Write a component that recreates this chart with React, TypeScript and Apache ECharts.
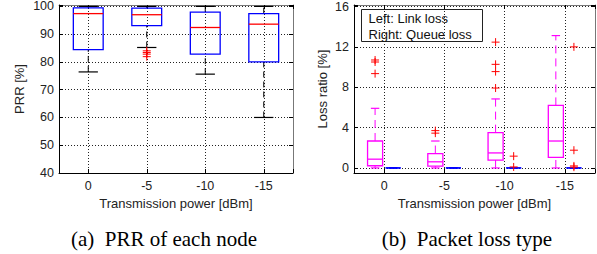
import React, { useEffect, useRef } from 'react';
import * as echarts from 'echarts';

// ---- data ----
const categories = ['0', '-5', '-10', '-15'];

// (a) PRR of each node [%]
const prrMin = [76.4, 85.2, 75.6, 60.0];
const prrQ1 = [84.4, 93.1, 82.8, 80.0];
const prrMedian = [97.4, 97.0, 92.4, 93.6];
const prrQ3 = [99.5, 99.4, 97.9, 97.4];
const prrMax = [100, 100, 100, 100];
const prrOutliers: [number, number][] = [[1, 84.0], [1, 83.4], [1, 82.8], [1, 81.9]];

// (b) Packet loss type [%]
const linkMin = [0, 0, 0, 0];
const linkQ1 = [0.22, 0.19, 0.78, 1.04];
const linkMedian = [0.87, 0.61, 1.49, 2.67];
const linkQ3 = [2.67, 1.43, 3.5, 6.2];
const linkMax = [5.91, 2.67, 6.84, 13.12];
const linkOutliers: [number, number][] = [
  [0, 10.7], [0, 10.5], [0, 9.35],
  [1, 3.7], [1, 3.45],
  [2, 12.47], [2, 10.27], [2, 9.55], [2, 7.92],
];
const queueMin = [0, 0, 0, 0];
const queueQ1 = [0, 0, 0, 0];
const queueMedian = [0, 0, 0, 0];
const queueQ3 = [0, 0, 0, 0];
const queueMax = [0, 0, 0, 0];
const queueOutliers: [number, number][] = [
  [2, 1.17], [2, 0.1],
  [3, 12.0], [3, 1.76], [3, 0.2], [3, 0.08],
];

const SANS = 'Liberation Sans, Arial, Helvetica, sans-serif';
const SERIF = 'Liberation Serif, Times New Roman, serif';

function boxRenderer(boxColor: string, medianColor: string, whiskerColor: string, boxW: number, capW: number, dash: number[]) {
  return (params: any, api: any) => {
    const x = api.value(0);
    const vMin = api.value(1), vQ1 = api.value(2), vMed = api.value(3), vQ3 = api.value(4), vMax = api.value(5);
    const pMin = api.coord([x, vMin]);
    const pQ1 = api.coord([x, vQ1]);
    const pMed = api.coord([x, vMed]);
    const pQ3 = api.coord([x, vQ3]);
    const pMax = api.coord([x, vMax]);
    const w = api.size([boxW, 0])[0];
    const c = api.size([capW, 0])[0];
    const cx = pMed[0];
    return {
      type: 'group',
      children: [
        { type: 'line', shape: { x1: cx, y1: pQ3[1], x2: cx, y2: pMax[1] }, style: { stroke: whiskerColor, lineWidth: 1, lineDash: dash, fill: null } },
        { type: 'line', shape: { x1: cx, y1: pMin[1], x2: cx, y2: pQ1[1] }, style: { stroke: whiskerColor, lineWidth: 1, lineDash: dash, fill: null } },
        { type: 'line', shape: { x1: cx - c / 2, y1: pMax[1], x2: cx + c / 2, y2: pMax[1] }, style: { stroke: whiskerColor, lineWidth: 1.2, fill: null } },
        { type: 'line', shape: { x1: cx - c / 2, y1: pMin[1], x2: cx + c / 2, y2: pMin[1] }, style: { stroke: whiskerColor, lineWidth: 1.2, fill: null } },
        { type: 'rect', shape: { x: cx - w / 2, y: pQ3[1], width: w, height: pQ1[1] - pQ3[1] }, style: { fill: 'none', stroke: boxColor, lineWidth: 1.3 } },
        { type: 'line', shape: { x1: cx - w / 2, y1: pMed[1], x2: cx + w / 2, y2: pMed[1] }, style: { stroke: medianColor, lineWidth: 1.3, fill: null } },
      ],
    };
  };
}

function plusRenderer(color: string, size: number) {
  return (params: any, api: any) => {
    const p = api.coord([api.value(0), api.value(1)]);
    const h = size / 2;
    return {
      type: 'group',
      children: [
        { type: 'line', shape: { x1: p[0] - h, y1: p[1], x2: p[0] + h, y2: p[1] }, style: { stroke: color, lineWidth: 1 } },
        { type: 'line', shape: { x1: p[0], y1: p[1] - h, x2: p[0], y2: p[1] + h }, style: { stroke: color, lineWidth: 1 } },
      ],
    };
  };
}

const gridLineStyle = { color: '#222', type: [1, 2], width: 1 };

function catFormatter(v: number) {
  const i = Math.round(v);
  if (Math.abs(v - i) < 1e-6 && i >= 0 && i < categories.length) return categories[i];
  return '';
}

function makeXAxes(gridIndex: number) {
  return [
    {
      type: 'value', gridIndex, position: 'bottom', min: -0.5, max: 3.5, minInterval: 1, maxInterval: 1, splitNumber: 4,
      axisLine: { onZero: false, lineStyle: { color: '#000', width: 1 } },
      axisTick: { inside: true, length: 4, lineStyle: { color: '#000' } },
      axisLabel: { formatter: catFormatter, color: '#222', fontSize: 12.5, fontFamily: SANS, margin: 6 },
      splitLine: { show: true, lineStyle: gridLineStyle, showMinLine: false, showMaxLine: false },
      name: 'Transmission power [dBm]', nameLocation: 'middle', nameGap: 22,
      nameTextStyle: { color: '#222', fontSize: 13, fontFamily: SANS },
    },
    {
      type: 'value', gridIndex, position: 'top', min: -0.5, max: 3.5, minInterval: 1, maxInterval: 1, splitNumber: 4,
      axisLine: { onZero: false, lineStyle: { color: '#777', width: 1 } },
      axisTick: { inside: true, length: 4, lineStyle: { color: '#000' } },
      axisLabel: { show: false },
      splitLine: { show: false },
    },
  ];
}

function makeYAxes(gridIndex: number, min: number, max: number, step: number, name: string, nameGap: number) {
  const fmt = (v: number) => (Math.abs(v / step - Math.round(v / step)) < 1e-6 ? String(Math.round(v)) : '');
  return [
    {
      type: 'value', gridIndex, position: 'left', min, max, minInterval: step, maxInterval: step, splitNumber: 4,
      axisLine: { onZero: false, lineStyle: { color: '#000', width: 1 } },
      axisTick: { inside: true, length: 4, lineStyle: { color: '#000' } },
      axisLabel: { formatter: fmt, color: '#222', fontSize: 12.5, lineHeight: 12, fontFamily: SANS, margin: 5 },
      splitLine: { show: true, lineStyle: gridLineStyle, showMinLine: false, showMaxLine: false },
      name, nameLocation: 'middle', nameGap,
      nameTextStyle: { color: '#222', fontSize: 13, fontFamily: SANS },
    },
    {
      type: 'value', gridIndex, position: 'right', min, max, minInterval: step, maxInterval: step, splitNumber: 4,
      axisLine: { onZero: false, lineStyle: { color: '#777', width: 1 } },
      axisTick: { inside: true, length: 4, lineStyle: { color: '#000' } },
      axisLabel: { show: false },
      splitLine: { show: false },
    },
  ];
}

export default function App() {
  const ref = useRef<HTMLDivElement>(null);
  useEffect(() => {
    if (!ref.current) return;
    const chart = echarts.init(ref.current, undefined, { renderer: 'svg' });

    const prrData = categories.map((_, i) => [i, prrMin[i], prrQ1[i], prrMedian[i], prrQ3[i], prrMax[i]]);
    const linkData = categories.map((_, i) => [i - 0.15, linkMin[i], linkQ1[i], linkMedian[i], linkQ3[i], linkMax[i]]);
    const queueData = categories.map((_, i) => [i + 0.15, queueMin[i], queueQ1[i], queueMedian[i], queueQ3[i], queueMax[i]]);

    const option: any = {
      animation: false,
      backgroundColor: '#fff',
      grid: [
        { left: 59, top: 5, width: 234, height: 168, containLabel: false, outerBoundsMode: 'none' },
        { left: 354, top: 5, width: 241, height: 168, containLabel: false, outerBoundsMode: 'none' },
      ],
      xAxis: [...makeXAxes(0), ...makeXAxes(1)],
      yAxis: [
        ...makeYAxes(0, 40, 100.5, 10, 'PRR [%]', 33),
        ...makeYAxes(1, -0.5, 16.15, 4, 'Loss ratio [%]', 25),
      ],
      series: [
        {
          type: 'custom', name: 'PRR', xAxisIndex: 0, yAxisIndex: 0, clip: false,
          encode: { x: 0, y: [1, 2, 3, 4, 5] },
          renderItem: boxRenderer('#0000ff', '#ff0000', '#000', 0.51, 0.33, [6, 4]),
          data: prrData,
        },
        {
          type: 'custom', name: 'PRR outliers', xAxisIndex: 0, yAxisIndex: 0, clip: false,
          encode: { x: 0, y: 1 },
          renderItem: plusRenderer('#ff0000', 8),
          data: prrOutliers,
        },
        {
          type: 'custom', name: 'Link loss', xAxisIndex: 2, yAxisIndex: 2, clip: false,
          encode: { x: 0, y: [1, 2, 3, 4, 5] },
          renderItem: boxRenderer('#ff00ff', '#ff00ff', '#ff00ff', 0.25, 0.14, [8, 5]),
          data: linkData,
        },
        {
          type: 'custom', name: 'Queue loss', xAxisIndex: 2, yAxisIndex: 2, clip: false,
          encode: { x: 0, y: [1, 2, 3, 4, 5] },
          renderItem: boxRenderer('#0000ff', '#0000ff', '#0000ff', 0.25, 0.14, [8, 5]),
          data: queueData,
        },
        {
          type: 'custom', name: 'Link outliers', xAxisIndex: 2, yAxisIndex: 2, clip: false,
          encode: { x: 0, y: 1 },
          renderItem: plusRenderer('#ff0000', 8),
          data: linkOutliers.map(([i, v]) => [i - 0.15, v]),
        },
        {
          type: 'custom', name: 'Queue outliers', xAxisIndex: 2, yAxisIndex: 2, clip: false,
          encode: { x: 0, y: 1 },
          renderItem: plusRenderer('#ff0000', 8),
          data: queueOutliers.map(([i, v]) => [i + 0.15, v]),
        },
      ],
      graphic: [
        {
          type: 'group', left: 361, top: 9, z: 100,
          children: [
            { type: 'rect', shape: { x: 0, y: 0, width: 121, height: 32 }, style: { fill: '#fff', stroke: '#222', lineWidth: 1 } },
            { type: 'text', x: 7, y: 8.5, style: { text: 'Left: Link loss', fill: '#111', font: '13px ' + SANS, verticalAlign: 'middle' } },
            { type: 'text', x: 7, y: 25, style: { text: 'Right: Queue loss', fill: '#111', font: '13px ' + SANS, verticalAlign: 'middle' } },
          ],
        },
        { type: 'text', x: 164, y: 239, style: { text: '(a)\u00a0\u00a0PRR of each node', fill: '#000', font: '21px ' + SERIF, align: 'center', verticalAlign: 'middle' } },
        { type: 'text', x: 467, y: 239, style: { text: '(b)\u00a0\u00a0Packet loss type', fill: '#000', font: '21px ' + SERIF, align: 'center', verticalAlign: 'middle' } },
      ],
    };
    chart.setOption(option);
    return () => chart.dispose();
  }, []);
  return <div ref={ref} style={{ position: 'fixed', left: 0, top: 0, width: 597, height: 254, background: '#fff' }} />;
}
